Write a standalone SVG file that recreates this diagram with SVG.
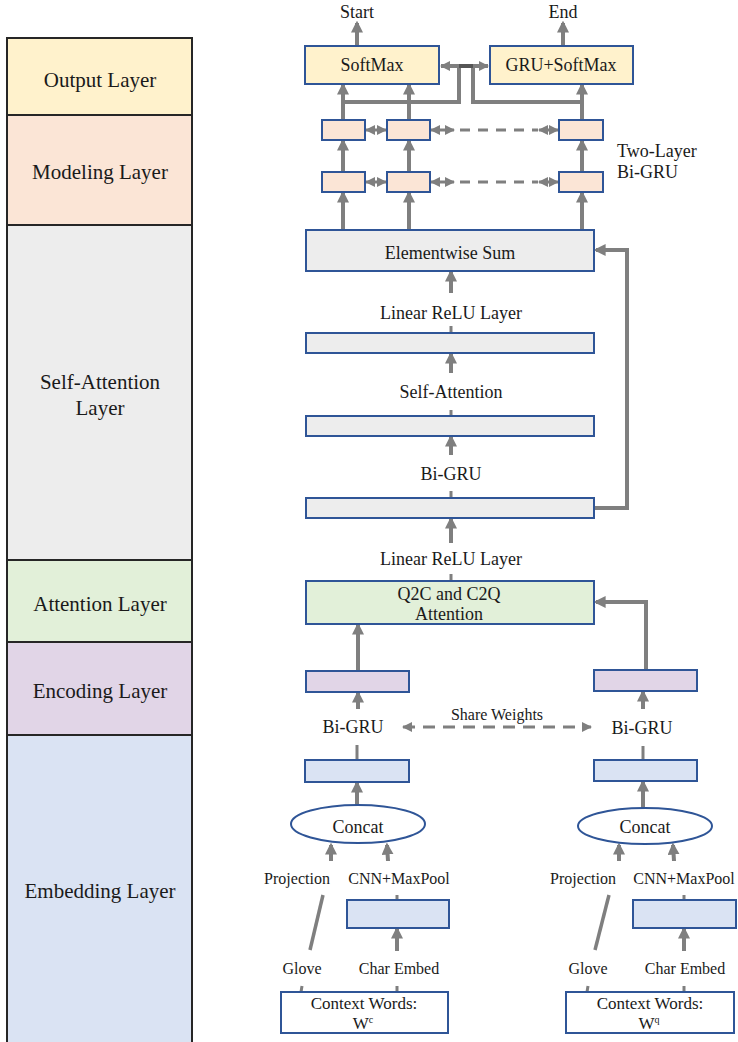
<svg xmlns="http://www.w3.org/2000/svg" width="738" height="1042" viewBox="0 0 738 1042">
<defs>
<marker id="ah" viewBox="0 0 10 10" refX="8" refY="5" markerWidth="12" markerHeight="12" markerUnits="userSpaceOnUse" orient="auto-start-reverse"><path d="M0,0 L10,5 L0,10 z" fill="#7f7f7f"/></marker>
<marker id="sh" viewBox="0 0 10 10" refX="9" refY="5" markerWidth="10" markerHeight="10" markerUnits="userSpaceOnUse" orient="auto-start-reverse"><path d="M0,0 L10,5 L0,10 z" fill="#7f7f7f"/></marker>
<style>
.lay{stroke:#262626;stroke-width:2}
.lt{font-family:"Liberation Serif","Times New Roman",serif;font-size:21px;fill:#1a1a1a;text-anchor:middle}
.t{font-family:"Liberation Serif","Times New Roman",serif;font-size:18px;fill:#1a1a1a;text-anchor:middle}
.tw{font-family:"Liberation Serif","Times New Roman",serif;font-size:17px;fill:#1a1a1a;text-anchor:middle}
.ts{font-family:"Liberation Serif","Times New Roman",serif;font-size:16px;fill:#1a1a1a;text-anchor:middle}
.bx{stroke:#2f5597;stroke-width:2}
.a{stroke:#7f7f7f;stroke-width:4;fill:none;marker-end:url(#ah)}
.l{stroke:#7f7f7f;stroke-width:4;fill:none}
.tk{stroke:#7f7f7f;stroke-width:3;fill:none}
.da{stroke:#7f7f7f;stroke-width:3;fill:none;marker-start:url(#sh);marker-end:url(#sh)}
.dash{stroke:#7f7f7f;stroke-width:3;fill:none;stroke-dasharray:10 8}
.out{fill:#fff2cc}.mod{fill:#fbe5d6}.sa{fill:#ededed}.att{fill:#e2f0d9}.enc{fill:#e1d5e7}.emb{fill:#dae3f3}
</style>
</defs>

<g id="layers">
<g id="layer-output"><rect class="lay out" x="7" y="38" width="185" height="77"/><text class="lt" x="100" y="87">Output Layer</text></g>
<g id="layer-modeling"><rect class="lay mod" x="7" y="115" width="185" height="110"/><text class="lt" x="100" y="179">Modeling Layer</text></g>
<g id="layer-selfatt"><rect class="lay sa" x="7" y="225" width="185" height="335"/><text class="lt" x="100" y="389">Self-Attention</text><text class="lt" x="100" y="415">Layer</text></g>
<g id="layer-attention"><rect class="lay att" x="7" y="560" width="185" height="82"/><text class="lt" x="100" y="611">Attention Layer</text></g>
<g id="layer-encoding"><rect class="lay enc" x="7" y="642" width="185" height="93"/><text class="lt" x="100" y="698">Encoding Layer</text></g>
<g id="layer-embedding"><rect class="lay emb" x="7" y="735" width="185" height="330"/><text class="lt" x="100" y="898">Embedding Layer</text></g>
</g>

<g id="connectors">
<line class="a" x1="357" y1="46" x2="357" y2="23"/>
<line class="a" x1="563" y1="46" x2="563" y2="23"/>
<line class="a" x1="343" y1="120" x2="343" y2="85"/>
<line class="a" x1="409" y1="120" x2="409" y2="85"/>
<line class="a" x1="582" y1="120" x2="582" y2="85"/>
<polyline class="l" points="343,102 459,102 459,66"/>
<polyline class="l" points="473,66 473,102 582,102"/>
<line class="da" x1="441" y1="66" x2="488" y2="66" style="stroke-width:4"/>
<line x1="459" y1="66" x2="473" y2="66" stroke="#555" stroke-width="4"/>
<line class="a" x1="343" y1="172" x2="343" y2="141"/>
<line class="a" x1="409" y1="172" x2="409" y2="141"/>
<line class="a" x1="582" y1="172" x2="582" y2="141"/>
<line class="a" x1="343" y1="230" x2="343" y2="193"/>
<line class="a" x1="409" y1="230" x2="409" y2="193"/>
<line class="a" x1="582" y1="230" x2="582" y2="193"/>
<line class="da" x1="366" y1="130" x2="386" y2="130"/>
<line class="da" x1="431" y1="130" x2="454" y2="130"/>
<line class="dash" x1="460" y1="130" x2="538" y2="130"/>
<line class="da" x1="539" y1="130" x2="558" y2="130"/>
<line class="da" x1="366" y1="182" x2="386" y2="182"/>
<line class="da" x1="431" y1="182" x2="454" y2="182"/>
<line class="dash" x1="460" y1="182" x2="538" y2="182"/>
<line class="da" x1="539" y1="182" x2="558" y2="182"/>
<line class="a" x1="451" y1="293" x2="451" y2="272"/>
<line class="tk" x1="451" y1="326" x2="451" y2="333"/>
<line class="a" x1="451" y1="373" x2="451" y2="354"/>
<line class="tk" x1="451" y1="410" x2="451" y2="416"/>
<line class="a" x1="451" y1="455" x2="451" y2="437"/>
<line class="tk" x1="451" y1="491" x2="451" y2="498"/>
<line class="a" x1="451" y1="543" x2="451" y2="519"/>
<polyline class="a" points="594,508 627,508 627,250 596,250"/>
<line class="tk" x1="451" y1="574" x2="451" y2="581"/>
<line class="a" x1="358" y1="671" x2="358" y2="625"/>
<polyline class="a" points="646,670 646,602 596,602"/>
<line class="a" x1="358" y1="709" x2="358" y2="693"/>
<line class="a" x1="643" y1="709" x2="643" y2="692"/>
<line class="da" x1="403" y1="727" x2="591" y2="727" style="stroke-dasharray:12 8"/>
<line class="tk" x1="357" y1="745" x2="357" y2="760"/>
<line class="tk" x1="643" y1="746" x2="643" y2="760"/>
<line class="a" x1="357" y1="805" x2="357" y2="783"/>
<line class="a" x1="643" y1="810" x2="643" y2="782"/>
<line class="a" x1="331" y1="861" x2="331" y2="845"/>
<line class="a" x1="388" y1="861" x2="387" y2="845"/>
<line class="a" x1="619" y1="861" x2="619" y2="845"/>
<line class="a" x1="674" y1="861" x2="673" y2="845"/>
<line class="l" x1="323" y1="895" x2="310" y2="950" style="stroke-width:3.5"/>
<line class="l" x1="609" y1="895" x2="595" y2="950" style="stroke-width:3.5"/>
<line class="tk" x1="397" y1="895" x2="397" y2="900"/>
<line class="tk" x1="684" y1="895" x2="684" y2="900"/>
<line class="a" x1="397" y1="951" x2="397" y2="929"/>
<line class="a" x1="684" y1="951" x2="684" y2="929"/>
<line class="tk" x1="302" y1="986" x2="301" y2="992"/>
<line class="tk" x1="397" y1="986" x2="397" y2="992"/>
<line class="tk" x1="588" y1="986" x2="587" y2="992"/>
<line class="tk" x1="684" y1="986" x2="684" y2="992"/>
</g>

<g id="labels">
<text class="t" x="357" y="18">Start</text>
<text class="t" x="563" y="18">End</text>
<text class="t" x="617" y="157" style="text-anchor:start">Two-Layer</text>
<text class="t" x="617" y="178" style="text-anchor:start">Bi-GRU</text>
<text class="t" x="451" y="319">Linear ReLU Layer</text>
<text class="t" x="451" y="398">Self-Attention</text>
<text class="t" x="451" y="480">Bi-GRU</text>
<text class="t" x="451" y="565">Linear ReLU Layer</text>
<text class="t" x="353" y="733">Bi-GRU</text>
<text class="t" x="642" y="734">Bi-GRU</text>
<text class="ts" x="497" y="720">Share Weights</text>
<text class="ts" x="297" y="884">Projection</text>
<text class="ts" x="399" y="884">CNN+MaxPool</text>
<text class="ts" x="302" y="974">Glove</text>
<text class="ts" x="399" y="974">Char Embed</text>
<text class="ts" x="583" y="884">Projection</text>
<text class="ts" x="684" y="884">CNN+MaxPool</text>
<text class="ts" x="588" y="974">Glove</text>
<text class="ts" x="685" y="974">Char Embed</text>
</g>

<g id="softmax"><rect class="bx out" x="305" y="46" width="134" height="38"/><text class="t" x="372" y="71">SoftMax</text></g>
<g id="gru-softmax"><rect class="bx out" x="490" y="46" width="143" height="38"/><text class="t" x="561" y="71">GRU+SoftMax</text></g>

<g id="mod-u1"><rect class="bx mod" x="322" y="120" width="43" height="20"/></g>
<g id="mod-u2"><rect class="bx mod" x="387" y="120" width="43" height="20"/></g>
<g id="mod-u3"><rect class="bx mod" x="559" y="120" width="44" height="20"/></g>
<g id="mod-l1"><rect class="bx mod" x="322" y="172" width="43" height="20"/></g>
<g id="mod-l2"><rect class="bx mod" x="387" y="172" width="43" height="20"/></g>
<g id="mod-l3"><rect class="bx mod" x="559" y="172" width="44" height="20"/></g>

<g id="elementwise-sum"><rect class="bx sa" x="306" y="230" width="288" height="41"/><text class="t" x="450" y="259">Elementwise Sum</text></g>
<g id="linear-relu"><rect class="bx sa" x="306" y="333" width="288" height="20"/></g>
<g id="self-attention"><rect class="bx sa" x="306" y="416" width="288" height="20"/></g>
<g id="bigru-sa"><rect class="bx sa" x="306" y="498" width="288" height="20"/></g>

<g id="attention"><rect class="bx att" x="306" y="581" width="288" height="43"/><text class="t" x="449" y="600">Q2C and C2Q</text><text class="t" x="449" y="620">Attention</text></g>

<g id="enc-c"><rect class="bx enc" x="306" y="671" width="103" height="21"/></g>
<g id="enc-q"><rect class="bx enc" x="594" y="670" width="103" height="21"/></g>
<g id="emb-c"><rect class="bx emb" x="305" y="760" width="104" height="22"/></g>
<g id="emb-q"><rect class="bx emb" x="594" y="760" width="103" height="21"/></g>

<g id="concat-c"><ellipse class="bx" fill="#fff" cx="358" cy="824" rx="67" ry="19"/><text class="t" x="358" y="833">Concat</text></g>
<g id="concat-q"><ellipse class="bx" fill="#fff" cx="645" cy="826" rx="67" ry="18"/><text class="t" x="645" y="833">Concat</text></g>

<g id="cnn-c"><rect class="bx emb" x="347" y="900" width="102" height="28"/></g>
<g id="cnn-q"><rect class="bx emb" x="633" y="900" width="103" height="28"/></g>

<g id="words-c"><rect class="bx" fill="#fff" x="281" y="992" width="167" height="41"/><text class="tw" x="364" y="1009">Context Words:</text><text class="tw" x="363" y="1029">W<tspan font-size="10" dy="-6">c</tspan></text></g>
<g id="words-q"><rect class="bx" fill="#fff" x="566" y="992" width="168" height="41"/><text class="tw" x="650" y="1009">Context Words:</text><text class="tw" x="649" y="1029">W<tspan font-size="10" dy="-6">q</tspan></text></g>
</svg>
